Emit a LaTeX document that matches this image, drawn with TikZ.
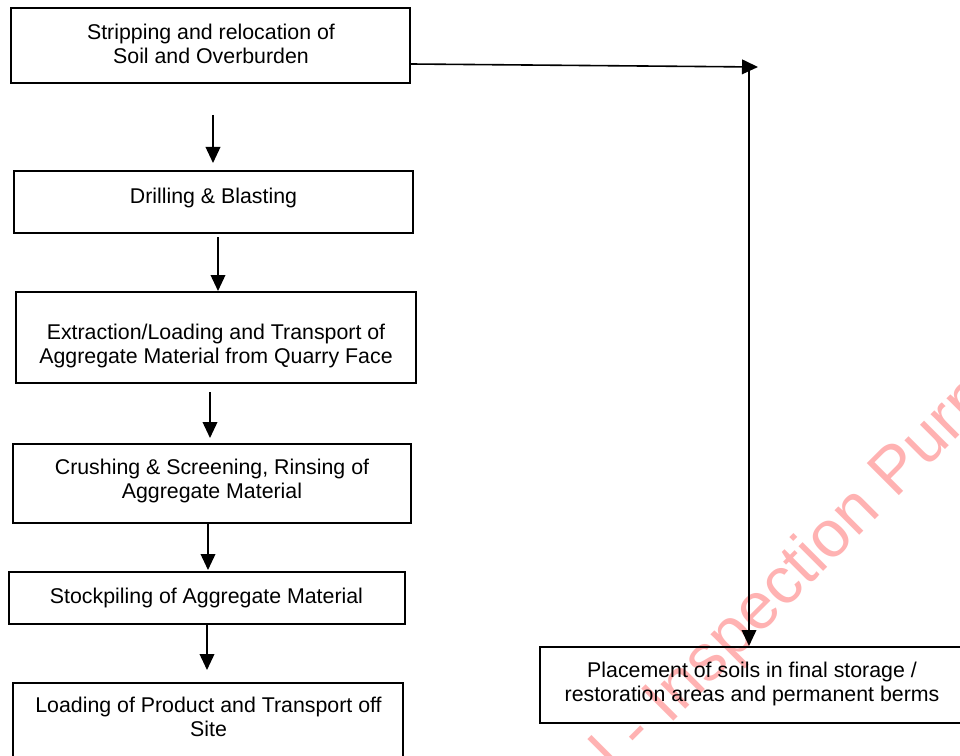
\documentclass[tikz,border=0pt]{standalone}
\usepackage{fontspec}
\setmainfont{Liberation Sans}
\usetikzlibrary{arrows.meta,fit}
\definecolor{wmred}{RGB}{255,178,178}
\tikzset{
  x=0.75pt, y=-0.75pt,
  box/.style={draw=black, line width=1.5pt, inner sep=0pt, rectangle},
  txt/.style={align=center, inner sep=0pt, font=\fontsize{16}{18}\selectfont},
  conn/.style={draw=black, line width=1.2pt, -{Triangle[length=12pt,width=11pt]}},
  wmark/.style={rotate=45, anchor=base west, inner sep=0pt, text=wmred, font=\fontsize{49.5}{56}\selectfont}
}
\begin{document}
\begin{tikzpicture}
\clip (0,0) rectangle (960,756);
\fill[white] (0,0) rectangle (960,756);
% watermark
\node[wmark] (wm) at (618,777) {l - Inspection Purp};
% boxes
\node[box, fit={(11,8) (410,83)}] (b1) {};
\node[box, fit={(14,171) (413,233)}] (b2) {};
\node[box, fit={(16,292) (416,383)}] (b3) {};
\node[box, fit={(13,444) (411,523)}] (b4) {};
\node[box, fit={(9,572) (405,624)}] (b5) {};
\node[box, fit={(13,683) (403,775)}] (b6) {};
\node[box, fit={(540,647) (964,723)}] (b7) {};
% texts
\node[txt] (t1) at (211,46.8) {\strut Stripping and relocation of\\\strut Soil and Overburden};
\node[txt] (t2) at (213.5,198.3) {\strut Drilling \& Blasting};
\node[txt] (t3) at (216,346.8) {\strut Extraction/Loading and Transport of\\\strut Aggregate Material from Quarry Face};
\node[txt] (t4) at (212,481.8) {\strut Crushing \& Screening, Rinsing of\\\strut Aggregate Material};
\node[txt] (t5) at (206.5,598.3) {\strut Stockpiling of Aggregate Material};
\node[txt] (t6) at (208.5,719.8) {\strut Loading of Product and Transport off\\\strut Site};
\node[txt] (t7) at (752,684.8) {\strut Placement of soils in final storage /\\\strut restoration areas and permanent berms};
% connector end points
\coordinate (a1s) at (213,115);
\coordinate (a1e) at (213,163);
\coordinate (a2s) at (218,237);
\coordinate (a3s) at (210,392);
\coordinate (a3e) at (210,438);
\coordinate (a5e) at (207,670);
\coordinate (rt) at (758,67);
\coordinate (rv) at (749,70);
% connectors
\draw[conn] (a1s) -- (a1e);
\draw[conn] (a2s) -- (a2s |- b3.north);
\draw[conn] (a3s) -- (a3e);
\draw[conn] (b4.south -| 208,0) -- (208,570);
\draw[conn] (b5.south -| 207,0) -- (a5e);
\draw[conn] (b1.east |- 0,64) -- (rt);
\draw[conn] (rv) -- (rv |- b7.north);
\end{tikzpicture}
\end{document}
